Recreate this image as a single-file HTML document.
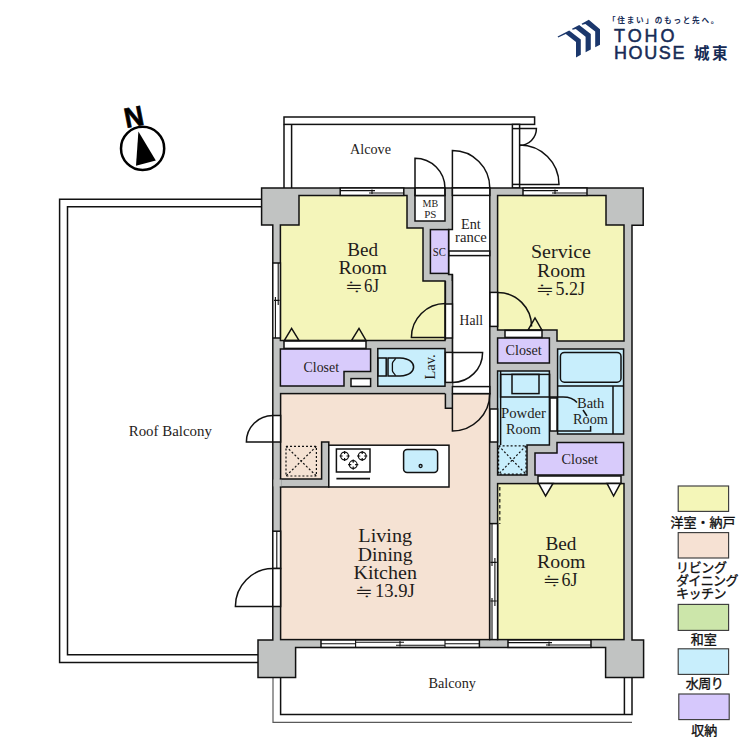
<!DOCTYPE html>
<html lang="ja">
<head>
<meta charset="utf-8">
<title>Floor Plan</title>
<style>
html,body{margin:0;padding:0;background:#fff;}
body{width:750px;height:750px;overflow:hidden;}
svg{display:block;}
.s{font-family:"Liberation Serif","Noto Serif CJK SC","Noto Sans CJK JP",serif;fill:#222;}
.g{font-family:"Liberation Sans","Noto Sans CJK JP",sans-serif;fill:#111;}
.l{fill:none;stroke:#111;stroke-width:1.5;}
.w{fill:#fff;stroke:#111;stroke-width:1.5;}
.gy{fill:#c1c3c2;stroke:#111;stroke-width:1.5;}
.ye{fill:#f4f5ba;stroke:#111;stroke-width:1.5;}
.pk{fill:#f5e2d3;stroke:#111;stroke-width:1.5;}
.bl{fill:#c8eefc;stroke:#111;stroke-width:1.5;}
.pu{fill:#d8cbfb;stroke:#111;stroke-width:1.5;}
</style>
</head>
<body>
<svg width="750" height="750" viewBox="0 0 750 750">
<rect width="750" height="750" fill="#fff"/>

<!-- LOGO -->
<g id="logo" fill="#1b376c">
<polygon points="557.6,36.6 569.2,30.4 580.8,39.6 580.8,54.8 576,57.6 576,42 565.8,34 558.2,37.6"/>
<polygon points="572,28.8 579.2,25 590.8,34 590.8,49.6 585.6,52.2 585.6,36.8 575.8,29 572.6,29.8"/>
<polygon points="581.6,23.8 588.8,19.8 600,29.2 600,44.8 595.2,47.2 595.2,31.6 585.4,24 582.2,24.8"/>
<text x="608" y="22.8" fill="#162b56" font-family="'Liberation Sans','Noto Sans CJK JP',sans-serif" font-size="7.6" font-weight="bold" textLength="110.4" lengthAdjust="spacing">「住まい」のもっと先へ。</text>
<text x="614" y="42" font-family="'Liberation Sans','Noto Sans CJK JP',sans-serif" font-size="18" fill="#162b56" stroke="#162b56" stroke-width="0.5" textLength="60.6" lengthAdjust="spacing">TOHO</text>
<text x="614" y="59.2" font-family="'Liberation Sans','Noto Sans CJK JP',sans-serif" font-size="18" fill="#162b56" stroke="#162b56" stroke-width="0.5" textLength="70.4" lengthAdjust="spacing">HOUSE</text>
<text x="694" y="58.5" font-family="'Liberation Sans','Noto Sans CJK JP',sans-serif" font-size="15.5" fill="#162b56" font-weight="bold" textLength="33.5" lengthAdjust="spacing">城東</text>
</g>

<!-- COMPASS -->
<g id="compass">
<circle cx="142.6" cy="148.4" r="21.6" fill="#fff" stroke="#000" stroke-width="2.5"/>
<polygon points="138.4,131.4 136,165.8 155.8,160.6" fill="#000"/>
<text x="0" y="0" transform="translate(126.3,128) rotate(-11) scale(0.95,1)" font-family="'Liberation Sans',sans-serif" font-weight="bold" font-size="28" fill="#000" stroke="#000" stroke-width="0.7">N</text>
</g>

<!-- ROOF BALCONY -->
<g id="roofbalcony" class="l">
<polyline points="262,199.2 59.6,199.2 59.6,662.4 258,662.4"/>
<polyline points="262,206.7 67.5,206.7 67.5,654.8 258,654.8"/>
</g>

<!-- ALCOVE -->
<g id="alcove">
<rect class="w" x="284" y="117" width="250.6" height="7.4"/>
<line class="l" x1="284" y1="124.4" x2="284" y2="188"/>
<line class="l" x1="291.6" y1="124.4" x2="291.6" y2="188"/>
<rect class="w" x="512.4" y="124.4" width="7.2" height="63.6"/>
<line class="l" x1="512.4" y1="128.6" x2="519.6" y2="128.6"/>
<line class="l" x1="512.4" y1="184.4" x2="519.6" y2="184.4"/>
<path class="l" d="M519.6,128.6 H536.4 A16.8,16.8 0 0 1 519.6,145.4"/>
<path class="l" d="M519.6,184.4 H559 A39.4,39.4 0 0 0 519.6,145"/>
</g>

<!-- BALCONY (bottom) -->
<g id="balcony">
<polyline class="l" points="273,677 273,722.4 632,722.4" style="stroke:#5a5a5a;stroke-width:1.2"/>
<polyline class="l" points="280.6,677 280.6,714.4 632,714.4 632,677"/>
<line class="l" x1="624.4" y1="677" x2="624.4" y2="714.4"/>
</g>

<!-- BUILDING WALL BASE -->
<polygon class="gy" points="261.6,188 643.2,188 643.2,225.2 632,225.2 632,640 643.6,640 643.6,677.4 605.6,677.4 605.6,647.4 295.6,647.4 295.6,677.4 258,677.4 258,640 272.8,640 272.8,225 261.6,225"/>

<!-- HALL / ENTRANCE (white) -->
<polygon class="w" points="452.4,188 489.8,188 489.8,393.6 452.4,393.6 452.4,274.4 448.6,274.4 448.6,229.4 452.4,229.4"/>
<rect x="445.4" y="281" width="7" height="127" fill="#c1c3c2" stroke="none"/><path class="l" d="M452.4,274.4V393.6M445.4,281V340"/>

<!-- ROOMS -->
<polygon class="ye" points="299,195.5 407,195.5 407,228 423,228 423,281 445,281 445,340.4 280.4,340.4 280.4,225 299,225"/>
<rect class="w" x="415" y="195.5" width="30" height="25.5"/>
<rect class="pu" x="430.4" y="229.6" width="18.2" height="43.8"/>
<polygon class="ye" points="497.6,195.5 606,195.5 606,225 624,225 624,341 557,341 557,330 497.6,330"/>
<rect class="pu" x="497.6" y="338" width="51.8" height="25"/>
<rect class="bl" x="557.6" y="349" width="66" height="85"/>
<polygon class="bl" points="497.6,371 549.4,371 549.4,445 527,445 527,475 497.6,475"/>
<polygon class="pu" points="557,442.4 623.6,442.4 623.6,475 535,475 535,453 557,453"/>
<rect class="ye" x="497.6" y="483.6" width="126.4" height="156"/>
<rect class="pk" x="280.6" y="393.6" width="209" height="246"/>
<polygon class="gy" points="321.6,442 328.8,442 328.8,487 280.6,487 280.6,479 321.6,479"/>
<rect x="273.6" y="479.6" width="8" height="6.8" fill="#c1c3c2"/>
<rect x="445" y="382.4" width="7.4" height="25.8" fill="#c1c3c2"/>
<path class="l" d="M445.4,393.6V408.2H452.4"/>
<polygon class="pu" points="280.4,349 370.6,349 370.6,371.4 344,371.4 344,386 280.4,386"/>
<rect class="w" x="351" y="378.6" width="19.6" height="7.8"/>
<rect class="bl" x="377.8" y="348.6" width="67.2" height="37.6"/>

<!-- KITCHEN COUNTER -->
<rect class="w" x="328.8" y="445.2" width="120.2" height="41.8"/>
<rect class="w" x="336.4" y="449" width="33.6" height="23"/>
<line x1="336.4" y1="478.6" x2="370" y2="478.6" stroke="#111" stroke-width="1.6"/>
<g fill="none" stroke="#111" stroke-width="1.2">
<circle cx="344.6" cy="456" r="3.9"/><path d="M344.6,450.9v3.2M344.6,457.9v3.2M339.5,456h3.2M346.5,456h3.2"/>
<circle cx="362.2" cy="456" r="3.9"/><path d="M362.2,450.9v3.2M362.2,457.9v3.2M357.09999999999997,456h3.2M364.09999999999997,456h3.2"/>
<circle cx="353.2" cy="464.6" r="3.9"/><path d="M353.2,459.5v3.2M353.2,466.5v3.2M348.09999999999997,464.6h3.2M355.09999999999997,464.6h3.2"/>
</g>
<rect class="bl" x="403.6" y="449.4" width="34" height="23" rx="3.5" ry="3.5"/>
<circle cx="420.6" cy="466" r="1.5" fill="none" stroke="#111" stroke-width="1.3"/>

<!-- DOTTED BOXES -->
<g fill="none" stroke="#111" stroke-width="1.2" stroke-dasharray="2,2">
<rect x="286" y="446.4" width="30.4" height="29.6"/>
<path d="M286,446.4L316.4,476M316.4,446.4L286,476"/>
<rect x="498.6" y="445.8" width="27.4" height="28.4"/>
<path d="M498.6,445.8L526,474.2M526,445.8L498.6,474.2"/>
<line x1="499.8" y1="487" x2="499.8" y2="524" stroke-dasharray="3.6,2.4"/>
</g>

<!-- WINDOWS -->
<g id="windows">
<!-- top bed1 -->
<rect class="w" x="340.2" y="188" width="63.6" height="7.4"/>
<path class="l" d="M340.2,190.6H375M369,193H403.8M372,189.4v4.6" style="stroke-width:1.1"/>
<!-- top service -->
<rect class="w" x="523" y="188" width="64" height="7.4"/>
<path class="l" d="M523,190.6H558M552,193H587M555,189.4v4.6" style="stroke-width:1.1"/>
<!-- left bed1 -->
<rect class="w" x="272.8" y="263" width="7.6" height="75"/>
<path class="l" d="M278.2,263V305M275.4,297V338M274,300.4h5.6" style="stroke-width:1.1"/>
<!-- left LDK window -->
<rect class="w" x="272.8" y="531.2" width="7.8" height="37.3"/>
<line class="l" x1="276.8" y1="531.2" x2="276.8" y2="568.5" style="stroke-width:1.1"/>
<!-- bottom LDK -->
<rect class="w" x="321" y="640" width="158.4" height="7.4"/>
<path class="l" d="M321,643.7H355.6M355.6,642.2H404M396,645.3H445M445,643.7H479.4M355.6,640v7.4M445,640v7.4M400,641v5.6" style="stroke-width:1.1"/>
<!-- bottom bed2 -->
<rect class="w" x="508" y="640" width="83" height="7.4"/>
<path class="l" d="M508,642.6H552M546,645H591M549,641.4v4.6" style="stroke-width:1.1"/>
<!-- LDK / bed2 -->
<rect class="w" x="489.8" y="523.6" width="7.8" height="116"/>
<path class="l" d="M492,523.6V566M494.9,558V606M492,598V639.6M490.4,562.4h6.4M490.4,601h6.4" style="stroke-width:1.1"/>
</g>

<!-- DOOR OPENINGS + ARCS -->
<g id="doors">
<!-- MB/PS door -->
<rect class="w" x="415" y="188" width="30" height="7.5"/>
<path class="l" d="M415,195.5V158.2A30,30 0 0 1 445,188.2V195.5"/>
<!-- entrance door -->
<rect class="w" x="452.4" y="188" width="37.4" height="7.4"/>
<path class="l" d="M452.4,188V150.6A37.4,37.4 0 0 1 489.8,188"/>
<!-- entrance step -->
<rect class="w" x="449" y="251" width="40.8" height="4.6"/>
<!-- bed1 door -->
<rect class="w" x="445.4" y="304" width="7" height="34"/>
<path class="l" d="M445.4,337.6H411.4A34,34 0 0 1 445.4,303.6" />
<!-- lav door -->
<rect class="w" x="445.4" y="352.4" width="7" height="30"/>
<path class="l" d="M452.4,352.4H482.6A30.2,30 0 0 1 452.4,382.4"/>
<!-- LDK door -->
<rect class="w" x="452.4" y="386.6" width="37.4" height="7"/>
<path class="l" d="M452.4,393.6V431A37.4,37.4 0 0 0 489.8,393.6"/>
<!-- service door -->
<rect class="w" x="490" y="292.4" width="7.6" height="34"/>
<path class="l" d="M497.6,292.4A34,34 0 0 1 531.6,326.4"/>
<!-- powder sliding opening -->
<rect class="w" x="490" y="409" width="7.6" height="33"/>
<line class="l" x1="500.6" y1="371" x2="500.6" y2="445"/>
<!-- bath door -->
<rect class="w" x="550" y="398" width="7" height="33"/>
<!-- left upper door -->
<rect class="w" x="272.8" y="415.5" width="7.8" height="26.5"/>
<path class="l" d="M272.8,442H246.4A26.4,26.4 0 0 1 272.8,415.6"/>
<!-- left lower door -->
<rect class="w" x="272.8" y="568.5" width="7.8" height="38"/>
<path class="l" d="M272.8,606.4H235.4A37.4,37.8 0 0 1 272.8,568.6"/>
</g>

<!-- CLOSET DOOR STRIPS + TRIANGLES -->
<g id="closetdoors">
<rect class="w" x="284" y="341" width="82" height="7.4"/>
<polygon class="l" points="284.4,340.4 291.6,328.4 299,340.4"/>
<polygon class="l" points="351.6,340.4 359,328.4 366,340.4"/>
<rect class="w" x="505" y="330.4" width="37" height="7"/>
<polygon class="l" points="528,330.2 535,318 542,330.2"/>
<rect class="w" x="538" y="476" width="83" height="7.4"/>
<polygon class="w" points="538.6,483.4 545.6,496 553,483.4"/>
<polygon class="w" points="607,483.4 613.6,496 620.4,483.4"/>
</g>

<!-- FIXTURES -->
<g id="fixtures" class="l">
<!-- toilet -->
<rect x="377.8" y="358" width="8.4" height="18"/>
<path d="M388,358H400C410,358.5 413.6,363 413.6,367C413.6,371 410,375.5 400,376H388Z"/>
<path d="M395.6,358.2C394.4,361 392.4,361.4 392.4,363.6V370.4C392.4,372.6 394.4,373 395.6,375.8" stroke-width="1.3"/>
<!-- basin -->
<rect x="500.6" y="374.4" width="49" height="22.6"/>
<rect x="512" y="374.4" width="27" height="19.2"/>
<!-- bathtub -->
<rect x="560.4" y="352.4" width="60.6" height="29.8" rx="4" ry="4"/>
<line x1="557.6" y1="386" x2="623.6" y2="386"/>
<line x1="613" y1="386" x2="613" y2="434"/>
<!-- bath door leaders -->
<path d="M549.4,397H563C570,397 574,399 577,402.6"/>
<path d="M583,410L587,416"/>
<path d="M590.6,426V431H557"/>
</g>

<!-- TEXT -->
<g id="labels" fill="#1f1c1a">
<text transform="translate(350.00,154.40) scale(1.028,1)" font-family="'Liberation Serif',serif" font-size="13.8">Alcove</text>
<text transform="translate(422.60,206.80) scale(0.912,1)" font-family="'Liberation Serif',serif" font-size="11">MB</text>
<text transform="translate(424.20,217.60) scale(0.999,1)" font-family="'Liberation Serif',serif" font-size="11">PS</text>
<text transform="translate(461.00,228.80) scale(1.032,1)" font-family="'Liberation Serif',serif" font-size="13.8">Ent</text>
<text transform="translate(455.00,241.80) scale(1.064,1)" font-family="'Liberation Serif',serif" font-size="13.8">rance</text>
<text transform="translate(432.80,255.80) scale(0.913,1)" font-family="'Liberation Serif',serif" font-size="11.8">SC</text>
<text transform="translate(459.60,324.60) scale(0.986,1)" font-family="'Liberation Serif',serif" font-size="13.8">Hall</text>
<text transform="translate(347.30,256.00) scale(1.045,1)" font-family="'Liberation Serif',serif" font-size="18.3">Bed</text>
<text transform="translate(338.40,274.20) scale(1.086,1)" font-family="'Liberation Serif',serif" font-size="18.3">Room</text>
<text transform="translate(364.00,292.40) scale(0.936,1)" font-family="'Liberation Serif',serif" font-size="18">6J</text>
<text transform="translate(531.00,257.50) scale(1.093,1)" font-family="'Liberation Serif',serif" font-size="18.3">Service</text>
<text transform="translate(537.00,276.50) scale(1.084,1)" font-family="'Liberation Serif',serif" font-size="18.3">Room</text>
<text transform="translate(555.50,295.00) scale(0.999,1)" font-family="'Liberation Serif',serif" font-size="18">5.2J</text>
<text transform="translate(545.50,549.50) scale(1.052,1)" font-family="'Liberation Serif',serif" font-size="18.3">Bed</text>
<text transform="translate(537.00,567.50) scale(1.084,1)" font-family="'Liberation Serif',serif" font-size="18.3">Room</text>
<text transform="translate(561.50,586.00) scale(0.999,1)" font-family="'Liberation Serif',serif" font-size="18">6J</text>
<text transform="translate(358.30,541.90) scale(1.105,1)" font-family="'Liberation Serif',serif" font-size="18.3">Living</text>
<text transform="translate(357.80,560.50) scale(1.079,1)" font-family="'Liberation Serif',serif" font-size="18.3">Dining</text>
<text transform="translate(353.50,578.70) scale(1.096,1)" font-family="'Liberation Serif',serif" font-size="18.3">Kitchen</text>
<text transform="translate(374.90,597.30) scale(1.038,1)" font-family="'Liberation Serif',serif" font-size="18">13.9J</text>
<text transform="translate(303.60,372.00) scale(1.004,1)" font-family="'Liberation Serif',serif" font-size="13.8">Closet</text>
<text transform="translate(505.60,355.00) scale(1.021,1)" font-family="'Liberation Serif',serif" font-size="13.8">Closet</text>
<text transform="translate(561.60,463.60) scale(1.032,1)" font-family="'Liberation Serif',serif" font-size="13.8">Closet</text>
<text transform="translate(501.00,418.00) scale(1.067,1)" font-family="'Liberation Serif',serif" font-size="13.8">Powder</text>
<text transform="translate(506.00,433.60) scale(1.037,1)" font-family="'Liberation Serif',serif" font-size="13.8">Room</text>
<text transform="translate(577.00,408.40) scale(1.051,1)" font-family="'Liberation Serif',serif" font-size="13.8">Bath</text>
<text transform="translate(573.00,424.40) scale(1.037,1)" font-family="'Liberation Serif',serif" font-size="13.8">Room</text>
<text transform="translate(128.70,435.70) scale(1.065,1)" font-family="'Liberation Serif',serif" font-size="14">Roof Balcony</text>
<text transform="translate(428.40,687.60) scale(1.034,1)" font-family="'Liberation Serif',serif" font-size="13.8">Balcony</text>
<text transform="translate(344.12,293.40) scale(1.241,1)" font-family="IPAGothic,'Noto Sans CJK JP',sans-serif" font-size="16">≒</text>
<text transform="translate(534.75,296.00) scale(1.268,1)" font-family="IPAGothic,'Noto Sans CJK JP',sans-serif" font-size="16">≒</text>
<text transform="translate(541.87,587.00) scale(1.223,1)" font-family="IPAGothic,'Noto Sans CJK JP',sans-serif" font-size="16">≒</text>
<text transform="translate(354.12,598.30) scale(1.241,1)" font-family="IPAGothic,'Noto Sans CJK JP',sans-serif" font-size="16">≒</text>
<text transform="translate(435.2,379.60) rotate(-90) scale(1.049,1)" font-family="'Liberation Serif',serif" font-size="13.8">Lav.</text>
</g>

<!-- LEGEND -->
<g id="legend">
<g stroke="#3c3c3c" stroke-width="1.15">
<rect x="678.2" y="486" width="50.4" height="25.4" fill="#f4f6b8"/>
<rect x="678.2" y="532.6" width="50.4" height="25.4" fill="#f6e1d3"/>
<rect x="678.2" y="604.4" width="50.4" height="26" fill="#cce6aa"/>
<rect x="678.2" y="648.8" width="50.4" height="25.6" fill="#c8eefc"/>
<rect x="678.8" y="694" width="50.4" height="25.6" fill="#d6c8fc"/>
</g>
<g font-family="'Liberation Sans','Noto Sans CJK JP',sans-serif" font-size="13" fill="#111" stroke="#111" stroke-width="0.35">
<text x="670.4" y="527" textLength="65" lengthAdjust="spacing">洋室・納戸</text>
<text x="676" y="572" textLength="51" lengthAdjust="spacing">リビング</text>
<text x="676" y="585" textLength="62.5" lengthAdjust="spacing">ダイニング</text>
<text x="676" y="597.8" textLength="50.6" lengthAdjust="spacing">キッチン</text>
<text x="690.8" y="643.8" textLength="26" lengthAdjust="spacing">和室</text>
<text x="685.8" y="688" textLength="38" lengthAdjust="spacing">水周り</text>
<text x="691.2" y="735.2" textLength="26" lengthAdjust="spacing">収納</text>
</g>
</g>
</svg>
</body>
</html>
